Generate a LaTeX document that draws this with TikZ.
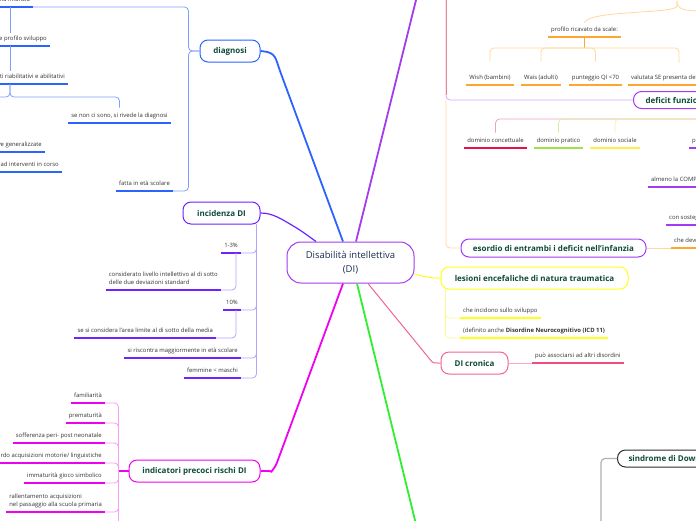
\documentclass[tikz,border=0pt]{standalone}
\usepackage{fontspec}
\setmainfont{Open Sans}

\definecolor{titlegreen}{HTML}{0E4A3A}
\definecolor{centrenavy}{HTML}{1C2D50}
\definecolor{leaftext}{HTML}{333333}
\definecolor{dgblue}{HTML}{2B63FF}
\definecolor{dgbluelt}{HTML}{7F9DFF}
\definecolor{incviolet}{HTML}{6E22FF}
\definecolor{incviolett}{HTML}{B9A2FF}
\definecolor{dipurple}{HTML}{A43BF2}
\definecolor{dipurplelt}{HTML}{D6A8FA}
\definecolor{indmagenta}{HTML}{F000F0}
\definecolor{indmagentalt}{HTML}{F5A0F5}
\definecolor{lesyellow}{HTML}{FFFF1A}
\definecolor{lesyellowlt}{HTML}{FFFA90}
\definecolor{crpink}{HTML}{F26494}
\definecolor{crpinkdk}{HTML}{EE4F7C}
\definecolor{crpinklt}{HTML}{F9A9C2}
\definecolor{dsgreen}{HTML}{2EF02E}
\definecolor{scorange}{HTML}{FFA630}
\definecolor{scorangelt}{HTML}{FFD89A}
\definecolor{crsalmon}{HTML}{E48A8A}
\definecolor{domred}{HTML}{E8104A}
\definecolor{domredlt}{HTML}{F4A0B4}
\definecolor{domgreen}{HTML}{9BE24C}
\definecolor{domgreenlt}{HTML}{CFF0A8}
\definecolor{domyellow}{HTML}{FFEF4A}
\definecolor{domyellowlt}{HTML}{FFE9B0}
\definecolor{sdgray}{HTML}{2E2E2E}
\definecolor{sdgraylt}{HTML}{B0B0B0}

\newcommand{\leaffont}{\fontsize{5.9}{8.5}\selectfont}
\newcommand{\titlefont}{\fontsize{8}{10}\selectfont\bfseries}
\newcommand{\centrefont}{\fontsize{9.5}{14}\selectfont}

\tikzset{
  topic/.style = {draw = #1, line width = 1pt, rounded corners = 8pt, fill = white,
                  text = titlegreen, font = \titlefont, minimum height = 22pt, inner sep = 0pt},
  leaf/.style = {font = \leaffont, text = leaftext, inner xsep = 3pt, inner ysep = 3.5pt,
                 text height = 4.4pt, text depth = 1.5pt, anchor = south,
                 append after command = {(\tikzlastnode.south west)
                   edge [draw = #1, line width = 1.8pt] (\tikzlastnode.south east)}},
  twig/.style = {draw = #1, line width = .8pt, rounded corners = 4pt},
  branch/.style = {draw = #1, line width = 1.8pt, rounded corners = 6pt}
}

\begin{document}
\begin{tikzpicture}[x = 1pt, y = -1pt]
      \useasboundingbox (0,0) rectangle (696,520);
      \clip (0,0) rectangle (696,520);

      \node [draw = dipurple, line width = 1pt, rounded corners = 14pt, fill = white,
             minimum width = 127pt, minimum height = 41pt, align = center,
             text = centrenavy, font = \centrefont]
        (di) at (350.5,262.5) {Disabilità intellettiva\\(DI)};

      \node [topic = dgblue, minimum width = 60pt] (diag) at (230,51) {diagnosi};
      \node [topic = incviolet, minimum width = 77pt] (incid) at (221.5,213) {incidenza DI};
      \node [topic = indmagenta, minimum width = 131pt] (indic) at (194.5,471) {indicatori precoci rischi DI};
      \node [topic = lesyellow, minimum width = 187pt] (lesion) at (534.5,278) {lesioni encefaliche di natura traumatica};
      \node [topic = crpink, minimum width = 67pt] (cron) at (474.5,363) {DI cronica};
      \node [topic = dipurple, minimum width = 185pt, minimum height = 18pt] (esord) at (553.5,248) {esordio di entrambi i deficit nell'infanzia};
      \node [topic = dipurple, minimum height = 17pt, anchor = west, inner xsep = 12pt] (defic) at (633,100) {deficit funzionamento adattivo};
      \node [topic = sdgray, minimum height = 17pt, anchor = west, inner xsep = 11pt] (sind) at (617,458.5) {sindrome di Down};

      \coordinate (upout) at (418.5,-10);
      \coordinate (downout) at (417.4,530);
      \draw [branch = dgblue] ([xshift = -7.5pt] di.north) -- (280,71) .. controls (275,56) and (274,52) .. (diag.east);
      \draw [branch = incviolet, line width = 1.2pt] ([xshift = -34.5pt] di.north) -- (300,230) .. controls (280,218) and (272,213) .. (incid.east);
      \draw [branch = dipurple] ([xshift = 5.5pt] di.north) -- (upout);
      \draw [branch = dsgreen] ([xshift = 6.5pt] di.south) -- (downout);
      \draw [branch = indmagenta] ([xshift = -7.5pt] di.south) -- (275,468) .. controls (272,471) .. (indic.east);
      \draw [branch = lesyellow, line width = 1pt] ([yshift = -11.5pt] di.east) -- (430,278) -- (lesion.west);
      \draw [branch = crpink, line width = 1pt] ([xshift = 17.5pt] di.south) -- (428,357) .. controls (433,363) .. (cron.west);

      \node [leaf = dgblue, anchor = south east] (infan) at (33,7) {prima infanzia};
      \node [leaf = dgblue, anchor = south east] (profsvil) at (50,46) {definizione profilo sviluppo};
      \node [leaf = dgblue, anchor = south east] (riabil) at (68,84) {interventi riabilitativi e abilitativi};
      \node [leaf = dgblue] (rivede) at (119.5,123) {se non ci sono, si rivede la diagnosi};
      \node [leaf = dgblue, anchor = south east] (general) at (45,152) {compromissioni adattive generalizzate};
      \node [leaf = dgblue, anchor = south east] (rispost) at (62,172) {scarsa risposta ad interventi in corso};
      \node [leaf = dgblue] (scolare) at (144.5,191) {fatta in età scolare};
      \coordinate (infstem) at (10,7);
      \coordinate (rivleft) at (-40,115);
      \draw [twig = dgbluelt] (diag.west) -- ++(-11,0) |- (infan.south east);
      \draw [twig = dgbluelt] (diag.west) -- ++(-11,0) |- (scolare.south east);
      \draw [twig = dgbluelt] (infstem) -- (infstem |- profsvil.north);
      \draw [twig = dgbluelt] (profsvil.south -| infstem) -- (infstem |- riabil.north);
      \draw [twig = dgbluelt] (riabil.south -| infstem) -- ++(0,13) -| ([yshift = 2pt] rivede.north);
      \draw [twig = dgbluelt] (riabil.south -| infstem) -- ++(0,13) -| (rivleft);

      \node [leaf = incviolet, anchor = south east] (pct1) at (241,253) {1-3\%};
      \node [leaf = incviolet, anchor = south east, align = left] (sotto) at (221,290) {considerato livello intellettivo al di sotto\\ delle due deviazioni standard};
      \node [leaf = incviolet, anchor = south east] (pct10) at (241,310) {10\%};
      \node [leaf = incviolet, anchor = south east] (media) at (216,338) {se si considera l'area limite al di sotto della media};
      \node [leaf = incviolet, anchor = south east] (maggior) at (241,358) {si riscontra maggiormente in età scolare};
      \node [leaf = incviolet, anchor = south east] (femm) at (241,378) {femmine < maschi};
      \coordinate (incstem) at ([xshift = -4pt] incid.south east);
      \draw [twig = incviolett] (incstem) |- (pct1.south east);
      \draw [twig = incviolett] (incstem) |- (pct10.south east);
      \draw [twig = incviolett] (incstem) |- (maggior.south east);
      \draw [twig = incviolett] (incstem) |- (femm.south east);
      \draw [twig = incviolett] ([xshift = -5pt] pct1.south east) |- (sotto.south east);
      \draw [twig = incviolett] ([xshift = -5pt] pct10.south east) |- (media.south east);

      \node [leaf = indmagenta, anchor = south east] (famil) at (105,403) {familiarità};
      \node [leaf = indmagenta, anchor = south east] (premat) at (105,423) {prematurità};
      \node [leaf = indmagenta, anchor = south east] (soffer) at (105,443) {sofferenza peri- post neonatale};
      \node [leaf = indmagenta, anchor = south east] (ritardo) at (105,463) {ritardo acquisizioni motorie/ linguistiche};
      \node [leaf = indmagenta, anchor = south east] (gioco) at (105,483) {immaturità gioco simbolico};
      \node [leaf = indmagenta, anchor = south east, align = left] (rallent) at (105,512) {rallentamento acquisizioni\\nel passaggio alla scuola primaria};
      \coordinate (indstem) at ([xshift = -10pt] indic.west);
      \coordinate (indoff) at (105,540);
      \draw [branch = indmagenta] (indic.west) -- (indstem);
      \draw [twig = indmagentalt] (indstem) |- (famil.south east);
      \draw [twig = indmagentalt] (indstem) |- (premat.south east);
      \draw [twig = indmagentalt] (indstem) |- (soffer.south east);
      \draw [twig = indmagentalt] (indstem) |- (ritardo.south east);
      \draw [twig = indmagentalt] (indstem) |- (gioco.south east);
      \draw [twig = indmagentalt] (indstem) |- (rallent.south east);
      \draw [twig = indmagentalt] (indstem) |- (indoff);

      \node [leaf = lesyellow, anchor = south west] (sviluppo) at (460,318) {che incidono sullo sviluppo};
      \node [leaf = lesyellow, anchor = south west] (icd) at (460,338) {(definito anche \textbf{Disordine Neurocognitivo (ICD 11)}};
      \coordinate (lesstem) at ([xshift = 5pt] lesion.south west);
      \draw [twig = lesyellowlt] (lesstem) |- (sviluppo.south west);
      \draw [twig = lesyellowlt] (lesstem) |- (icd.south west);

      \node [leaf = crpinkdk, anchor = south west] (assoc) at (532,363) {può associarsi ad altri disordini};
      \draw [twig = crpinklt] (cron.east) -- (assoc.south west);

      \coordinate (critop) at (446,-10);
      \draw [twig = dipurplelt] (critop) |- (defic.west);
      \draw [twig = crsalmon] (critop) -- ([yshift = 5pt] critop |- defic.west);
      \draw [twig = scorangelt] (critop |- defic.west) |- (esord.west);
      \node [leaf = scorange, anchor = south west] (devono) at (671,248) {che devono manifestarsi};
      \draw [twig = scorangelt] (esord.east) -- (devono.south west);

      \node [leaf = scorange] (profilo) at (584.5,37) {profilo ricavato da scale:};
      \node [leaf = scorange] (wish) at (490,85) {Wish (bambini)};
      \node [leaf = scorange] (wais) at (541,85) {Wais (adulti)};
      \node [leaf = scorange] (punteg) at (595.5,85) {punteggio QI <70};
      \node [leaf = scorange, anchor = south west] (valuta) at (628,85) {valutata SE presenta deficit adattivo};
      \coordinate (scaletop) at (677,-10);
      \coordinate (scaleright) at (706,11);
      \coordinate (valutdrop) at (679,63);
      \draw [twig = scorangelt] (scaletop) -- (677,2) .. controls (677,14) and (588,10) .. ([yshift = 1pt] profilo.north);
      \draw [twig = scorangelt] (677,2) .. controls (677,11) and (690,11) .. (scaleright);
      \draw [line width = 1.8pt, scorange] (profilo.south) -- ++(0,11);
      \coordinate (scalerail) at ([yshift = -11pt] profilo.south);
      \draw [twig = scorangelt] (scalerail) -| ([yshift = 10pt] wish.north);
      \draw [twig = scorangelt] (scalerail) -| ([yshift = 10pt] wais.north);
      \draw [twig = scorangelt] (scalerail) -| ([yshift = 10pt] punteg.north);
      \draw [twig = scorangelt] (scalerail) -| (valutdrop);

      \node [leaf = domred] (concet) at (495.5,148) {dominio concettuale};
      \node [leaf = domgreen] (pratico) at (558.5,148) {dominio pratico};
      \node [leaf = domyellow] (sociale) at (615,148) {dominio sociale};
      \node [leaf = dipurple, anchor = south west] (pervas) at (689,148) {per almeno un dominio};
      \coordinate (domrail) at (706,119);
      \draw [twig = domredlt] (domrail) -| ([yshift = 2pt] concet.north);
      \draw [twig = domgreenlt] (domrail) -| ([yshift = 2pt] pratico.north);
      \draw [twig = domyellowlt] (domrail) -| ([yshift = 2pt] sociale.north);

      \node [leaf = dipurple, anchor = south west] (compro) at (648,187) {almeno la COMPROMISSIONE di un dominio};
      \node [leaf = dipurple, anchor = south west] (sosteg) at (666,225) {con sostegno continuativo};

      \coordinate (sindbot) at (601,540);
      \draw [twig = sdgraylt, line width = 1.2pt] (sind.west) -| (sindbot);
    \end{tikzpicture}
\end{document}
